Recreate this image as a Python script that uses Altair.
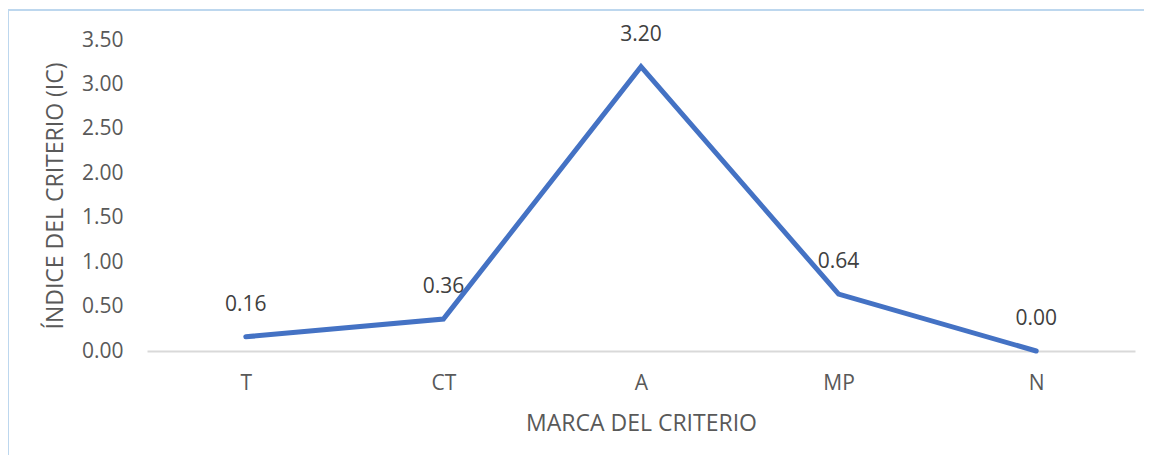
import altair as alt
import pandas as pd

categories = ["T", "CT", "A", "MP", "N"]
values = [0.16, 0.36, 3.20, 0.64, 0.00]
labels = ["0.16", "0.36", "3.20", "0.64", "0.00"]
y_ticks = [0, 0.5, 1.0, 1.5, 2.0, 2.5, 3.0, 3.5]

df = pd.DataFrame({"cat": categories, "val": values, "lab": labels})

FONT = "Open Sans"
W, H = 988, 311

x_enc = alt.X("cat:N", sort=categories,
              scale=alt.Scale(type="point", padding=0.5),
              axis=alt.Axis(title="MARCA DEL CRITERIO", labelAngle=0, ticks=False,
                            domain=True, domainColor="#D9D9D9", domainWidth=2,
                            labelPadding=21, labelFontSize=21, labelColor="#595959",
                            titleFontSize=23, titleColor="#595959", titleFontWeight="normal",
                            titlePadding=19, labelFont=FONT, titleFont=FONT))
y_enc = alt.Y("val:Q", scale=alt.Scale(domain=[0, 3.5], nice=False),
              axis=alt.Axis(title="ÍNDICE DEL CRITERIO (IC)", values=y_ticks, format=".2f",
                            grid=False, ticks=False, domain=False, labelPadding=24,
                            labelFontSize=21, labelColor="#595959",
                            titleFontSize=23, titleColor="#595959", titleFontWeight="normal",
                            titlePadding=14, labelFont=FONT, titleFont=FONT))

base = alt.Chart(df)
line = base.mark_line(color="#4472C4", strokeWidth=5, strokeCap="round", strokeJoin="miter").encode(x=x_enc, y=y_enc)
text = base.mark_text(dy=-32, fontSize=21, font=FONT, color="#404040").encode(
    x=alt.X("cat:N", sort=categories), y="val:Q", text="lab:N")

border_top = alt.Chart(df).mark_rule(color="#BDD7EE", strokeWidth=2).encode(
    x=alt.value(-139), x2=alt.value(997), y=alt.value(-30))
border_left = alt.Chart(df).mark_rule(color="#BDD7EE", strokeWidth=2).encode(
    x=alt.value(-139), y=alt.value(-30), y2=alt.value(420))

chart = alt.layer(border_top, border_left, line, text).properties(
    width=W, height=H,
    background="white",
    autosize=alt.AutoSizeParams(type="none"),
    padding={"left": 139, "top": 32, "right": 9, "bottom": 104},
).configure_view(strokeWidth=0, stroke=None)

chart.save("out.html", embed_options={"renderer": "svg", "actions": False})
